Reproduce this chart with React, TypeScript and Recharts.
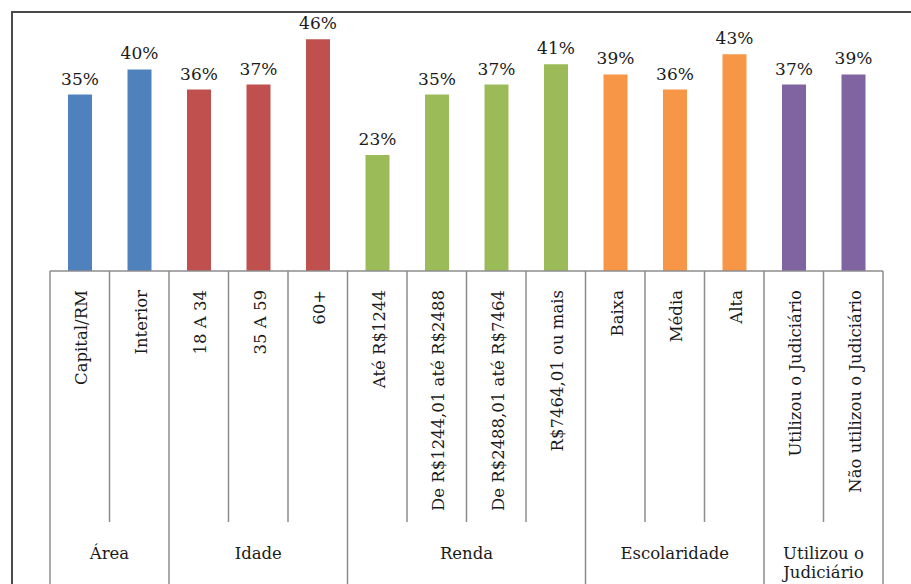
import { Bar, BarChart, Cell, LabelList, XAxis, YAxis } from "recharts";

const categories = [
  "Capital/RM",
  "Interior",
  "18 A 34",
  "35 A 59",
  "60+",
  "Até R$1244",
  "De R$1244,01 até R$2488",
  "De R$2488,01 até R$7464",
  "R$7464,01 ou mais",
  "Baixa",
  "Média",
  "Alta",
  "Utilizou o Judiciário",
  "Não utilizou o Judiciário",
];
const values = [35, 40, 36, 37, 46, 23, 35, 37, 41, 39, 36, 43, 37, 39];
const groupNames = ["Área", "Idade", "Renda", "Escolaridade", "Utilizou o\nJudiciário"];
const groupSizes = [2, 3, 4, 3, 2];
const groupColors = ["#4f81bd", "#c0504d", "#9bbb59", "#f79646", "#8064a2"];

const W = 911;
const H = 584;
const LEFT = 50;
const RIGHT = 28;
const TOP = 19;
const AXIS_H = 313;
const FONT = "'DejaVu Serif', serif";
const TEXT = "#1a1a1a";
const LINE = "#8c8c8c";

// group index for each category
const groupOf: number[] = [];
const groupStart: number[] = [];
groupSizes.forEach((n, g) => {
  groupStart.push(groupOf.length);
  for (let i = 0; i < n; i++) groupOf.push(g);
});

const data = categories.map((name, i) => ({ name, value: values[i], group: groupOf[i] }));

const bandW = (W - LEFT - RIGHT) / categories.length;

function CategoryTick(props: any) {
  const { x, y, index } = props;
  const label = categories[index];
  const g = groupOf[index];
  const left = x - bandW / 2;
  const right = x + bandW / 2;
  const isGroupStart = groupStart[g] === index;
  const isLast = index === categories.length - 1;
  const ty = y + 19;
  const items: any[] = [];
  items.push(
    <line
      key="l"
      x1={left}
      x2={left}
      y1={y}
      y2={isGroupStart ? H + 2 : y + 251}
      stroke={LINE}
      strokeWidth={1.5}
    />
  );
  if (isLast) {
    items.push(
      <line key="r" x1={right} x2={right} y1={y} y2={H + 2} stroke={LINE} strokeWidth={1.5} />
    );
  }
  items.push(
    <text
      key="t"
      x={x + 2}
      y={ty}
      transform={`rotate(-90, ${x + 2}, ${ty})`}
      textAnchor="end"
      dominantBaseline="central"
      fontFamily={FONT}
      fontSize={16.5}
      fill={TEXT}
    >
      {label}
    </text>
  );
  if (isGroupStart) {
    const gx = left + (bandW * groupSizes[g]) / 2;
    const lines = groupNames[g].split("\n");
    items.push(
      <text key="g" x={gx} y={y + 288} textAnchor="middle" fontFamily={FONT} fontSize={16.5} fill={TEXT}>
        {lines.map((ln, k) => (
          <tspan key={k} x={gx} dy={k === 0 ? 0 : 19}>
            {ln}
          </tspan>
        ))}
      </text>
    );
  }
  return <g>{items}</g>;
}

export default function App() {
  return (
    <div
      style={{
        position: "absolute",
        left: 0,
        top: 0,
        width: W,
        height: H,
        overflow: "hidden",
        background: "#fff",
      }}
    >
      <div
        style={{
          position: "absolute",
          left: 11,
          top: 11,
          width: 1200,
          height: 1200,
          borderLeft: "2px solid #4a4a4a",
          borderTop: "2px solid #4a4a4a",
        }}
      />
      <BarChart
        width={W}
        height={H}
        data={data}
        margin={{ top: TOP, right: RIGHT, left: LEFT, bottom: 0 }}
        style={{ position: "absolute", left: 0, top: 0 }}
      >
        <YAxis hide domain={[0, 50]} />
        <XAxis
          dataKey="name"
          height={AXIS_H}
          interval={0}
          tickLine={false}
          tickSize={0}
          tickMargin={0}
          axisLine={{ stroke: LINE, strokeWidth: 1.5 }}
          tick={<CategoryTick />}
        />
        <Bar dataKey="value" barSize={24} isAnimationActive={false}>
          {data.map((d, i) => (
            <Cell key={i} fill={groupColors[d.group]} />
          ))}
          <LabelList
            dataKey="value"
            position="top"
            offset={10}
            formatter={(v: any) => `${v}%`}
            style={{ fontFamily: FONT, fontSize: 17, fill: TEXT }}
          />
        </Bar>
      </BarChart>
    </div>
  );
}
